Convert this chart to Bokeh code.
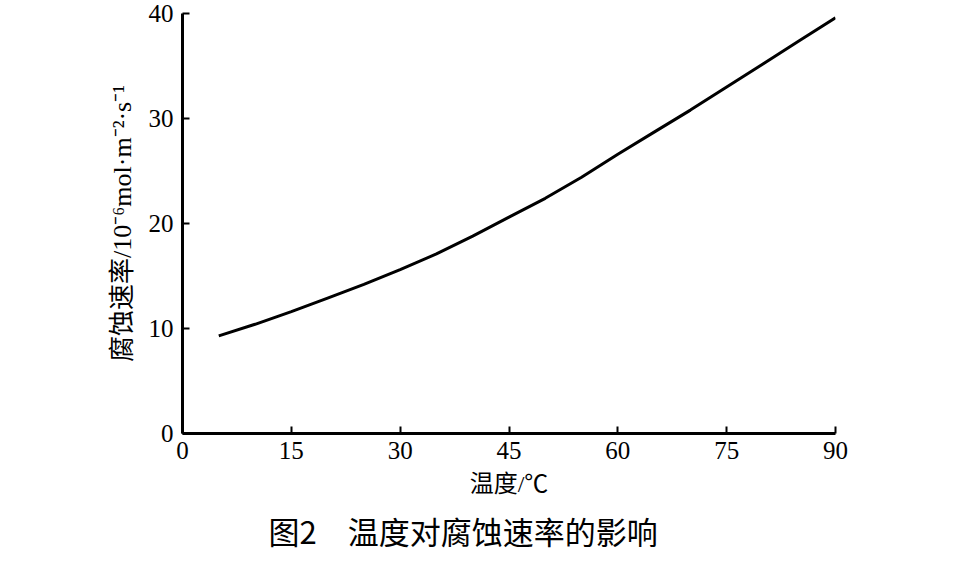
from bokeh.plotting import figure
from bokeh.models import Range1d, FixedTicker, Title
from bokeh.embed import file_html
from bokeh.resources import INLINE

# Data
temperature = [5, 10, 15, 20, 25, 30, 35, 40, 45, 50, 55, 60, 65, 70, 75, 80, 85, 90]
corrosion_rate = [9.3, 10.4, 11.6, 12.9, 14.2, 15.6, 17.1, 18.8, 20.6, 22.4, 24.4,
                  26.6, 28.7, 30.8, 33.0, 35.2, 37.4, 39.6]
x_ticks = [0, 15, 30, 45, 60, 75, 90]
y_ticks = [0, 10, 20, 30, 40]

y_label = "腐蚀速率/10⁻⁶mol·m⁻²·s⁻¹"
x_label = "温度/℃"
caption = "图2　温度对腐蚀速率的影响"

SERIF = "Liberation Serif"
MIXED = "Liberation Serif, Noto Sans CJK SC"
CJK = "Noto Sans CJK SC"

p = figure(frame_width=653, frame_height=420, output_backend="svg", toolbar_location=None,
           x_range=Range1d(0, 90), y_range=Range1d(0, 40),
           min_border_left=182, min_border_right=121,
           min_border_top=13, min_border_bottom=110)
p.background_fill_color = "white"
p.border_fill_color = "white"
p.outline_line_color = None
p.grid.visible = False

for ax, ticks in ((p.xaxis, x_ticks), (p.yaxis, y_ticks)):
    ax.ticker = FixedTicker(ticks=ticks)
    ax.axis_line_width = 3
    ax.axis_line_color = "black"
    ax.major_tick_in = 7
    ax.major_tick_out = 0
    ax.major_tick_line_width = 2
    ax.major_tick_line_color = "black"
    ax.minor_tick_line_color = None
    ax.major_label_text_font = SERIF
    ax.major_label_text_font_size = "25px"
    ax.major_label_text_color = "black"
    ax.axis_label_text_font = MIXED
    ax.axis_label_text_font_style = "normal"
    ax.axis_label_text_color = "black"
p.xaxis.major_label_standoff = 8
p.yaxis.major_label_standoff = 9

p.yaxis.axis_label = y_label
p.yaxis.axis_label_text_font_size = "26px"
p.yaxis.axis_label_standoff = 9

p.xaxis.axis_label = x_label
p.xaxis.axis_label_text_font_size = "24px"
p.xaxis.axis_label_standoff = 9

p.line(temperature, corrosion_rate, line_width=3, line_color="black")

p.add_layout(Title(text=caption, align="left", offset=86,
                   text_font=CJK, text_font_size="31px", text_font_style="normal",
                   text_color="black", standoff=12), "below")

open("out.html", "w").write(file_html(p, INLINE))
